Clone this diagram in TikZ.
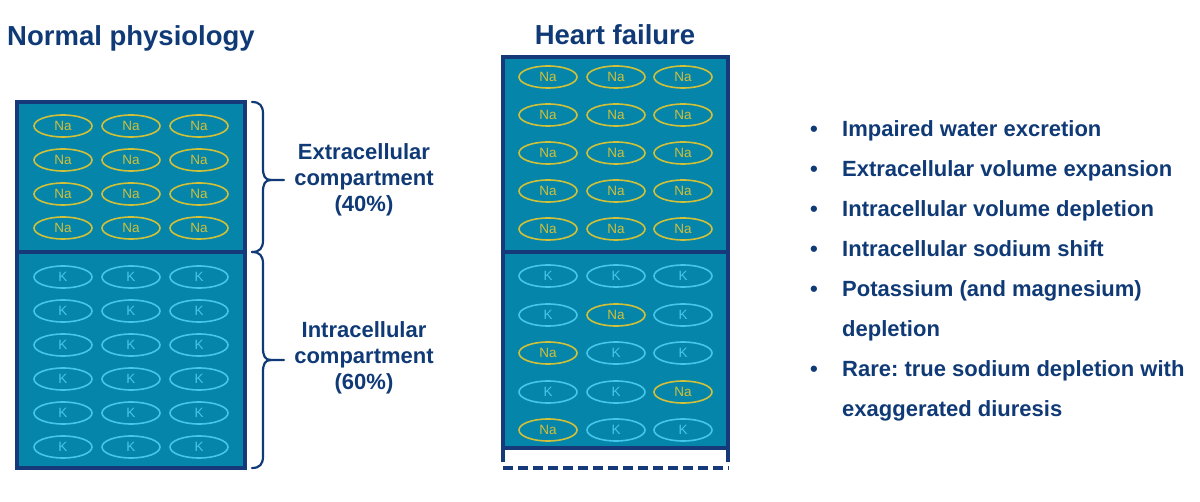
\documentclass[tikz,border=0pt]{standalone}
\usepackage{fontspec}
\setmainfont{Liberation Sans}
\usetikzlibrary{shapes.geometric}
\definecolor{navy}{HTML}{103A76}
\definecolor{boxline}{HTML}{16397A}
\definecolor{teal}{HTML}{0585A9}
\definecolor{nacol}{HTML}{D0C03A}
\definecolor{kcol}{HTML}{45C6EC}
\tikzset{
  ion/.style={ellipse, minimum width=58pt, minimum height=22pt, inner sep=0pt, line width=1.6pt, font=\fontsize{13.5}{13.5}\selectfont},
  na/.style={ion, draw=nacol, text=nacol},
  kk/.style={ion, draw=kcol, text=kcol},
  compbox/.style={fill=teal, draw=boxline, line width=3.5pt},
  brace/.style={draw=navy, line width=2.2pt, line cap=round, line join=round},
  title/.style={text=navy, font=\bfseries\fontsize{27.5}{30}\selectfont, anchor=base},
  comp/.style={text=navy, font=\bfseries\fontsize{22}{26}\selectfont, align=center},
  bullet/.style={text=navy, font=\bfseries\fontsize{22}{26}\selectfont, anchor=base west, inner sep=0pt},
}
\frenchspacing
\begin{document}
\begin{tikzpicture}[x=1pt,y=-1pt]
\useasboundingbox (0,0) rectangle (1200,502);
% titles
\node[title] (t1) at (131,46) {Normal physiology};
\node[title] (t2) at (615,45) {Heart failure};
% left boxes
\path[compbox] (17,102) rectangle (245,252);
\path[compbox] (17,252) rectangle (245,468);
\foreach \y [count=\i] in {126,160,194,228} {
  \foreach \x [count=\j] in {63,131,199} {
    \node[na] (ln\i\j) at (\x,\y) {Na};
  }
}
\foreach \y [count=\i] in {277,311,345,379,413,447} {
  \foreach \x [count=\j] in {63,131,199} {
    \node[kk] (lk\i\j) at (\x,\y) {K};
  }
}
% braces
\draw[brace] (252,102) .. controls (260,102) and (263,106) .. (263,114) -- (263,168) .. controls (263,176) and (265,180) .. (271,180) -- (284,180);
\draw[brace] (271,180) .. controls (265,180) and (263,184) .. (263,192) -- (263,240) .. controls (263,248) and (260,252) .. (252,252);
\draw[brace] (252,252) .. controls (260,252) and (263,256) .. (263,264) -- (263,348) .. controls (263,356) and (265,360) .. (271,360) -- (284,360);
\draw[brace] (271,360) .. controls (265,360) and (263,364) .. (263,372) -- (263,456) .. controls (263,464) and (260,468) .. (252,468);
\node[comp] (ec) at (364,180) {Extracellular\\compartment\\(40\%)};
\node[comp] (ic) at (364,358) {Intracellular\\compartment\\(60\%)};
% right boxes
\draw[boxline, line width=3.5pt] (503,448) -- (503,462);
\draw[boxline, line width=3.5pt] (728,448) -- (728,462);
\path[compbox] (503,57) rectangle (728,252);
\path[compbox] (503,252) rectangle (728,448);
\draw[boxline, line width=3.5pt, dash pattern=on 10pt off 5pt] (503,468) -- (729,468);
\foreach \y [count=\i] in {77,115,153,191,229} {
  \foreach \x [count=\j] in {548,616,683} {
    \node[na] (rn\i\j) at (\x,\y) {Na};
  }
}
\node[kk] (rk11) at (548,276) {K};
\node[kk] (rk12) at (616,276) {K};
\node[kk] (rk13) at (683,276) {K};
\node[kk] (rk21) at (548,315) {K};
\node[na] (rk22) at (616,315) {Na};
\node[kk] (rk23) at (683,315) {K};
\node[na] (rk31) at (548,353) {Na};
\node[kk] (rk32) at (616,353) {K};
\node[kk] (rk33) at (683,353) {K};
\node[kk] (rk41) at (548,392) {K};
\node[kk] (rk42) at (616,392) {K};
\node[na] (rk43) at (683,392) {Na};
\node[na] (rk51) at (548,430) {Na};
\node[kk] (rk52) at (616,430) {K};
\node[kk] (rk53) at (683,430) {K};
% bullet list
\foreach \y/\txt/\b [count=\i] in {137/Impaired water excretion/1, 177/Extracellular volume expansion/1, 217/Intracellular volume depletion/1, 257/Intracellular sodium shift/1, 297/Potassium (and magnesium)/1, 337/depletion/0, 377/Rare: true sodium depletion with/1, 417/exaggerated diuresis/0} {
  \node[bullet] (b\i) at (842,\y) {\txt};
  \ifnum\b=1 \node[bullet] (d\i) at (810,\y) {•}; \fi
}
\end{tikzpicture}
\end{document}
